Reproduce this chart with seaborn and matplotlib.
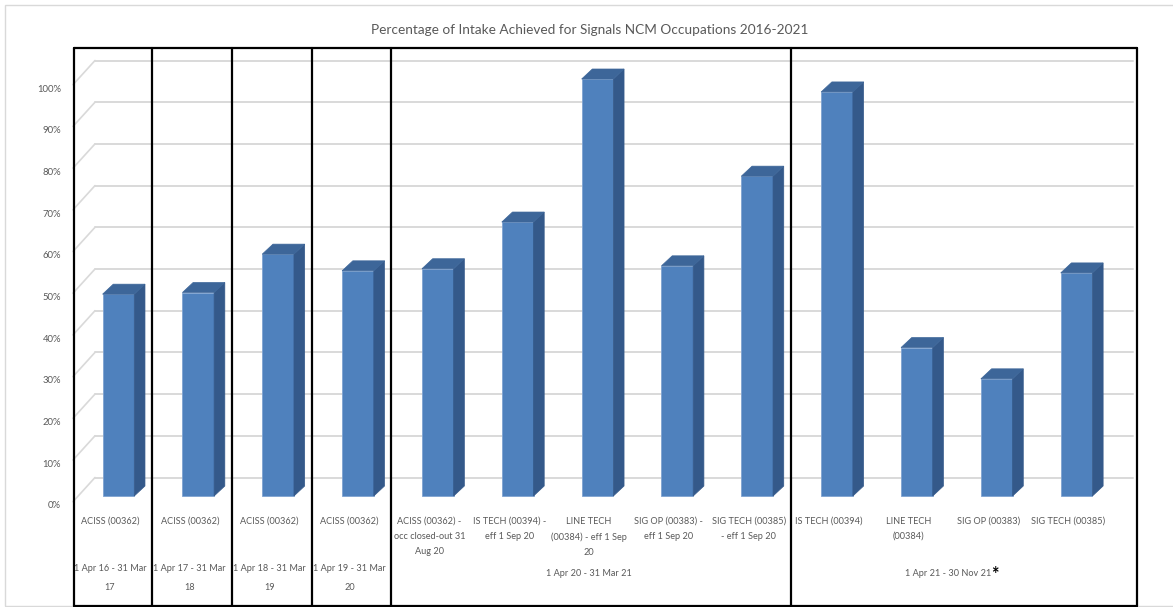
import numpy as np
import pandas as pd
import matplotlib
matplotlib.use("Agg")
import matplotlib.pyplot as plt
from matplotlib.patches import Polygon, Rectangle
import matplotlib.transforms as mtransforms
import seaborn as sns

# ---- data -------------------------------------------------------------
categories = [
    "ACISS (00362)",
    "ACISS (00362)",
    "ACISS (00362)",
    "ACISS (00362)",
    "ACISS (00362) -\nocc closed-out 31\nAug 20",
    "IS TECH (00394) -\neff 1 Sep 20",
    "LINE TECH\n(00384) - eff 1 Sep\n20",
    "SIG OP (00383) -\neff 1 Sep 20",
    "SIG TECH (00385)\n- eff 1 Sep 20",
    "IS TECH (00394)",
    "LINE TECH\n(00384)",
    "SIG OP (00383)",
    "SIG TECH (00385)",
]
intake_pct = [0.484, 0.488, 0.580, 0.540, 0.545, 0.657, 1.000,
              0.552, 0.767, 0.969, 0.356, 0.281, 0.535]
periods = ["1 Apr 16 - 31 Mar\n17", "1 Apr 17 - 31 Mar\n18",
           "1 Apr 18 - 31 Mar\n19", "1 Apr 19 - 31 Mar\n20",
           "1 Apr 20 - 31 Mar 21", "1 Apr 21 - 30 Nov 21"]
period_sizes = [1, 1, 1, 1, 5, 4]
y_ticks = [0.0, 0.1, 0.2, 0.3, 0.4, 0.5, 0.6, 0.7, 0.8, 0.9, 1.0]
y_tick_labels = ["0%", "10%", "20%", "30%", "40%", "50%",
                 "60%", "70%", "80%", "90%", "100%"]
title = "Percentage of Intake Achieved for Signals NCM Occupations 2016-2021"

df = pd.DataFrame({"slot": range(len(categories)), "pct": intake_pct})

# ---- styling ----------------------------------------------------------
sns.set_theme(style="white")
plt.rcParams["font.family"] = ["Lato", "DejaVu Sans"]

W, H = 1173, 607
fig = plt.figure(figsize=(W / 100, H / 100), dpi=100)
fig.patch.set_facecolor("white")

TEXT = "#595959"
GRID = "#D9D9D9"
FRONT = "#4F81BD"
SIDE = "#34598A"
TOP = "#3D6699"
LABEL_PT = 6.6

# front plane of the pseudo-3D plot area (pixels)
PX_L, PX_R, PX_B, PX_T = 70, 1108, 505, 88
ax = fig.add_axes([PX_L / W, 1 - PX_B / H, (PX_R - PX_L) / W, (PX_B - PX_T) / H])
n = len(categories)
ax.set_xlim(-0.5, n - 0.5)
ax.set_ylim(0, 1)
px_x = (PX_R - PX_L) / n          # pixels per category
px_y = (PX_B - PX_T) / 1.0        # pixels per unit of value


def dx(p):
    return p / px_x


def dy(p):
    return p / px_y


# back wall gridlines and left-wall diagonals
BACK = (25, 27.5)
for t in y_ticks:
    ax.plot([-0.5 + dx(BACK[0]), n - 0.5 + dx(BACK[0])], [t + dy(BACK[1])] * 2,
            color=GRID, lw=1.4, clip_on=False, zorder=1)
    ax.plot([-0.5 + dx(3), -0.5 + dx(BACK[0])], [t + dy(3 * BACK[1] / BACK[0]), t + dy(BACK[1])],
            color=GRID, lw=1.2, clip_on=False, zorder=1)

# columns: front faces through seaborn, then shaded side and top faces
sns.barplot(data=df, x="slot", y="pct", color=FRONT, saturation=1,
            width=0.397, ax=ax, zorder=3)
MID = (8.5, 9)      # bar front offset from the front plane
DEPTH = (10.7, 10)  # bar depth
for patch in ax.patches:
    patch.set_x(patch.get_x() + dx(MID[0]))
    patch.set_y(patch.get_y() + dy(MID[1]))
    patch.set_edgecolor("#7FA3D1")
    patch.set_linewidth(0.6)
    patch.set_clip_on(False)
    x0 = patch.get_x()
    x1 = x0 + patch.get_width()
    y0 = patch.get_y()
    y1 = y0 + patch.get_height()
    ddx, ddy = dx(DEPTH[0]), dy(DEPTH[1])
    ax.add_patch(Polygon([(x1, y0), (x1, y1), (x1 + ddx, y1 + ddy), (x1 + ddx, y0 + ddy)],
                         closed=True, facecolor=SIDE, edgecolor=SIDE, lw=0.5,
                         clip_on=False, zorder=3))
    ax.add_patch(Polygon([(x0, y1), (x1, y1), (x1 + ddx, y1 + ddy), (x0 + ddx, y1 + ddy)],
                         closed=True, facecolor=TOP, edgecolor=TOP, lw=0.5,
                         clip_on=False, zorder=3))

for s in ax.spines.values():
    s.set_visible(False)
ax.set_xlabel("")
ax.set_ylabel("")
ax.set_yticks(y_ticks)
ax.set_yticklabels(y_tick_labels, fontsize=6.8, color=TEXT)
ax.set_xticks(range(n))
ax.set_xticklabels(categories, fontsize=LABEL_PT, color=TEXT, linespacing=1.86, va="top")
ax.tick_params(axis="y", length=0, pad=6.5)
ax.tick_params(axis="x", length=0, pad=8.5)
ax.grid(False)

# period labels beneath the categories
blend = mtransforms.blended_transform_factory(ax.transData, fig.transFigure)
starts = np.cumsum([0] + period_sizes[:-1])
for lab, st, sz in zip(periods, starts, period_sizes):
    cx = st + (sz - 1) / 2
    ypx = 578 if "\n" in lab else 574
    t = ax.text(cx, 1 - ypx / H, lab, transform=blend, ha="center", va="center",
                fontsize=LABEL_PT, color=TEXT, linespacing=2.45)
fig.canvas.draw()
bb = t.get_window_extent()
fig.text(bb.x1 / W - 0.0005, bb.y1 / H + 0.006, "*", fontsize=13, fontweight="bold",
         color="black", ha="left", va="top")

# period frames
TOP_PX, BOT_PX = 48, 606
edges = [-0.5 + dx(4)] + [s + sz - 0.5 + dx(2) for s, sz in zip(starts, period_sizes)][:-1]
for e in edges:
    fig.add_artist(plt.Line2D([ax.transData.transform((e, 0))[0] / W] * 2,
                              [1 - BOT_PX / H, 1 - TOP_PX / H], color="black", lw=1.6))
right_px = 1137
fig.add_artist(plt.Line2D([right_px / W] * 2, [1 - BOT_PX / H, 1 - TOP_PX / H], color="black", lw=1.6))
left_px = ax.transData.transform((edges[0], 0))[0]
for yy in (TOP_PX, BOT_PX):
    fig.add_artist(plt.Line2D([left_px / W, right_px / W], [1 - yy / H] * 2, color="black", lw=1.6))

# chart area border
fig.add_artist(Rectangle((5 / W, 1 - 606 / H), 1170 / W, 601 / H, transform=fig.transFigure,
                         fill=False, edgecolor="#D9D9D9", lw=1))

fig.text(590 / W, 1 - 30 / H, title, ha="center", va="center", fontsize=9.8, color=TEXT)

fig.savefig("out.png", dpi=100, facecolor="white")
